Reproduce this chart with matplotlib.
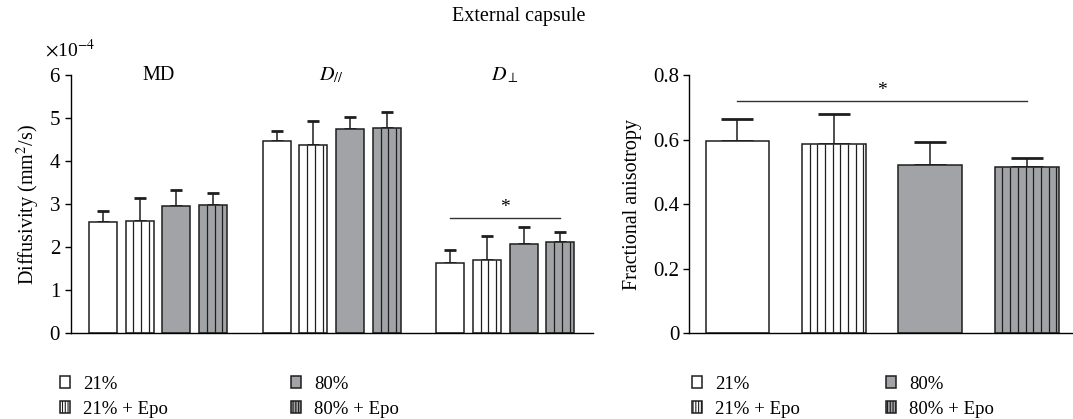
import matplotlib
matplotlib.use("Agg")
import matplotlib.pyplot as plt
import numpy as np
from matplotlib.patches import Patch
from matplotlib.ticker import ScalarFormatter, FuncFormatter

plt.rcParams['font.family'] = ['Liberation Serif', 'DejaVu Serif']
plt.rcParams['mathtext.fontset'] = 'stix'
plt.rcParams['font.size'] = 13
plt.rcParams['hatch.linewidth'] = 0.8

# ---- data ----
groups = ['MD', r'$D_{//}$', r'$D_{\perp}$']
conditions = ['21%', '21% + Epo', '80%', '80% + Epo']
# diffusivity means (mm^2/s) for each group x condition
diff_mean = [[2.58e-4, 2.60e-4, 2.96e-4, 2.99e-4],
             [4.46e-4, 4.38e-4, 4.74e-4, 4.78e-4],
             [1.64e-4, 1.71e-4, 2.07e-4, 2.11e-4]]
diff_err = [[0.25e-4, 0.54e-4, 0.38e-4, 0.27e-4],
            [0.25e-4, 0.55e-4, 0.29e-4, 0.35e-4],
            [0.30e-4, 0.54e-4, 0.41e-4, 0.24e-4]]
fa_mean = [0.596, 0.585, 0.520, 0.514]
fa_err = [0.068, 0.095, 0.073, 0.030]
diff_sig_y = 2.69e-4
fa_sig_y = 0.719

# ---- style ----
fills = ['white', 'white', '#a2a3a6', '#a2a3a6']
striped = [False, True, False, True]
edge = '#1e1e1e'

fig = plt.figure(figsize=(10.73, 4.19), dpi=100)
ax1 = fig.add_axes([0.0659, 0.2045, 0.4868, 0.6165])
ax2 = fig.add_axes([0.6424, 0.2045, 0.3576, 0.6165])

def draw_bar(ax, x, h, err, fill, stripe, width, spacing, capsize):
    ax.bar(x, h, width=width, color=fill, edgecolor=edge, linewidth=1.1, zorder=2)
    if stripe:
        x0 = x - width / 2
        xs = np.arange(x0 + spacing, x0 + width - spacing * 0.3, spacing)
        ax.vlines(xs, 0, h, color=edge, linewidth=0.9, zorder=3)
    ax.errorbar(x, h, yerr=[[0], [err]], fmt='none', ecolor=edge,
                elinewidth=1.1, capsize=capsize, capthick=2.0, zorder=1)

# left panel
group_gap = 4.73
wL = 0.76
for g in range(len(groups)):
    for i in range(len(conditions)):
        x = g * group_gap + i
        draw_bar(ax1, x, diff_mean[g][i], diff_err[g][i], fills[i], striped[i],
                 wL, 0.21, 4.5)
    ax1.text(g * group_gap + 1.5, 6.0e-4, groups[g], ha='center', va='center',
             fontsize=14.5)

ax1.set_xlim(-0.88, 13.35)
ax1.set_ylim(0, 6e-4)
ax1.set_yticks(np.arange(0, 7) * 1e-4)
fmt = ScalarFormatter(useMathText=True)
fmt.set_powerlimits((-3, 3))
ax1.yaxis.set_major_formatter(fmt)
ax1.yaxis.get_offset_text().set_visible(False)
ax1.text(-0.05, 1.055, r'$\times$10$^{-4}$', transform=ax1.transAxes,
         ha='left', va='bottom', fontsize=14)
ax1.set_ylabel('Diffusivity (mm$^2$/s)', fontsize=14.5, labelpad=5)
x_a = 2 * group_gap
x_b = 2 * group_gap + 3
ax1.plot([x_a, x_b], [diff_sig_y, diff_sig_y], color='#333333', lw=1.0, clip_on=False)
ax1.text((x_a + x_b) / 2, diff_sig_y + 0.04e-4, '*', ha='center', va='bottom', fontsize=14)

# right panel
for i in range(len(conditions)):
    draw_bar(ax2, i, fa_mean[i], fa_err[i], fills[i], striped[i], 0.663, 0.0798, 11.5)
ax2.set_xlim(-0.5, 3.48)
ax2.set_ylim(0, 0.8)
ax2.set_yticks([0, 0.2, 0.4, 0.6, 0.8])
ax2.yaxis.set_major_formatter(FuncFormatter(lambda v, p: f'{v:g}'))
ax2.set_ylabel('Fractional anisotropy', fontsize=14.5, labelpad=8)
ax2.plot([0, 3], [fa_sig_y, fa_sig_y], color='#333333', lw=1.0)
ax2.text(1.5, fa_sig_y + 0.008, '*', ha='center', va='bottom', fontsize=14)

for ax in (ax1, ax2):
    for s in ('top', 'right'):
        ax.spines[s].set_visible(False)
    ax.spines['left'].set_linewidth(1.0)
    ax.spines['bottom'].set_linewidth(1.0)
    ax.set_xticks([])
    ax.tick_params(axis='y', direction='out', length=4, width=1.0, labelsize=15, pad=3)

# legends
handles = [Patch(facecolor=fills[i], edgecolor=edge, hatch='||||||' if striped[i] else None,
                 linewidth=1.1) for i in range(4)]

def add_leg(idx, xpix):
    leg = fig.legend([handles[j] for j in idx], [conditions[j] for j in idx],
                     loc='upper left', bbox_to_anchor=(xpix / 1073, 1 - 376 / 419),
                     frameon=False, handlelength=0.55, handleheight=0.6,
                     handletextpad=0.7, labelspacing=0.42, fontsize=13.5, borderpad=0,
                     borderaxespad=0)
    return leg

add_leg([0, 1], 60)
add_leg([2, 3], 291)
add_leg([0, 1], 692)
add_leg([2, 3], 886)

fig.text(0.4837, 1 - 17 / 419, 'External capsule', ha='center', va='center', fontsize=14.5)

fig.savefig('out.png', dpi=100)
